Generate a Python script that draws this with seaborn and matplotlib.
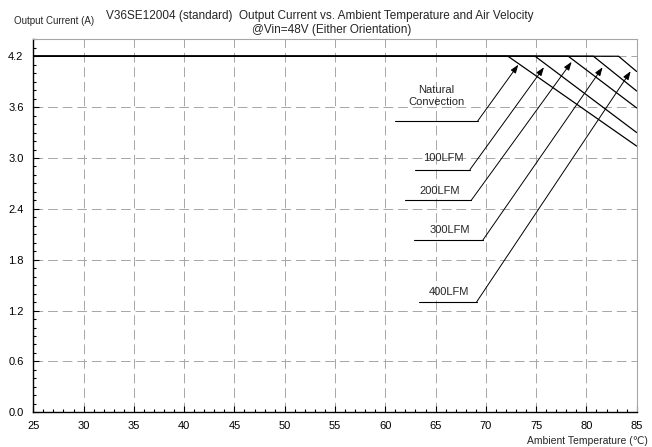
import matplotlib
matplotlib.use("Agg")
import matplotlib.pyplot as plt
import seaborn as sns
import pandas as pd
from matplotlib.ticker import MultipleLocator

# ---- data ----
series = ["Natural Convection", "100LFM", "200LFM", "300LFM", "400LFM"]
max_current = 4.2
t_start = 25
t_end = 85
knee_temp = [72.2, 74.9, 78.2, 80.7, 83.2]
end_current = [3.14, 3.30, 3.59, 3.79, 4.02]

# annotation geometry (data coords): label centre, underline start, elbow, arrow tip
label_text = ["Natural\nConvection", "100LFM", "200LFM", "300LFM", "400LFM"]
label_x = [65.11, 65.77, 65.44, 66.43, 66.33]
label_y = [3.730, 2.999, 2.610, 2.156, 1.416]
under_x0 = [60.97, 62.95, 61.96, 62.88, 63.38]
elbow_x = [69.19, 68.42, 68.55, 69.69, 69.09]
elbow_y = [3.436, 2.863, 2.501, 2.029, 1.303]
tip_x = [73.23, 75.78, 78.53, 81.61, 84.40]
tip_y = [4.10, 4.07, 4.134, 4.07, 4.023]

x_ticks = list(range(25, 86, 5))
y_ticks = [0.0, 0.6, 1.2, 1.8, 2.4, 3.0, 3.6, 4.2]

rows = []
for s, k, e in zip(series, knee_temp, end_current):
    rows += [(s, t_start, max_current), (s, k, max_current), (s, t_end, e)]
df = pd.DataFrame(rows, columns=["series", "temp", "current"])

sns.set_style("ticks")
plt.rcParams["font.family"] = ["Liberation Sans", "DejaVu Sans"]

fig = plt.figure(figsize=(6.52, 4.47), dpi=100)
ax = fig.add_axes([0.0511, 0.0776, 0.9254, 0.8345])

sns.lineplot(data=df, x="temp", y="current", hue="series", units="series",
             estimator=None, sort=False, palette=["black"] * 5, linewidth=0.9,
             legend=False, ax=ax)

ax.set_xlim(25, 85)
ax.set_ylim(0, 4.4)
ax.set_xticks(x_ticks)
ax.set_yticks(y_ticks)
ax.set_yticklabels([f"{v:.1f}" for v in y_ticks])
ax.xaxis.set_minor_locator(MultipleLocator(1))
ax.yaxis.set_minor_locator(MultipleLocator(0.1))
ax.tick_params(which="both", direction="in", colors="black", labelsize=8,
               top=False, right=False)
ax.tick_params(which="major", length=4, width=0.8)
ax.tick_params(which="minor", length=2.5, width=0.8)
ax.tick_params(axis="y", pad=7)
ax.tick_params(axis="x", pad=6)
ax.set_xlabel("")
ax.set_ylabel("")

ax.grid(True, which="major", color="#a6a6a6", linestyle=(0, (10, 5)), linewidth=0.7)
for sp in ["left", "bottom"]:
    ax.spines[sp].set_color("black")
    ax.spines[sp].set_linewidth(1.0)
for sp in ["top", "right"]:
    ax.spines[sp].set_color("#a6a6a6")
    ax.spines[sp].set_linewidth(0.8)

for t, lx, ly, x0, ex, ey, tx, ty in zip(label_text, label_x, label_y, under_x0,
                                        elbow_x, elbow_y, tip_x, tip_y):
    ax.plot([x0, ex], [ey, ey], color="black", linewidth=0.8)
    ax.annotate("", xy=(tx, ty), xytext=(ex, ey),
                arrowprops=dict(arrowstyle="-|>,head_length=0.5,head_width=0.18",
                                color="black", lw=0.7, shrinkA=0, shrinkB=0))
    ax.text(lx, ly, t, ha="center", va="center", fontsize=8, linespacing=1.15)

fig.text(320 / 652, 1 - 16 / 447, "V36SE12004 (standard)  Output Current vs. Ambient Temperature and Air Velocity",
         ha="center", va="center", fontsize=8.5)
fig.text(332 / 652, 1 - 30 / 447, "@Vin=48V (Either Orientation)",
         ha="center", va="center", fontsize=8.5)
fig.text(54 / 652, 1 - 21 / 447, "Output Current (A)", ha="center", va="center", fontsize=7)
fig.text(648 / 652, 1 - 441 / 447, "Ambient Temperature (\u2103)", ha="right", va="center", fontsize=7.5)

fig.savefig("out.png", dpi=100)
